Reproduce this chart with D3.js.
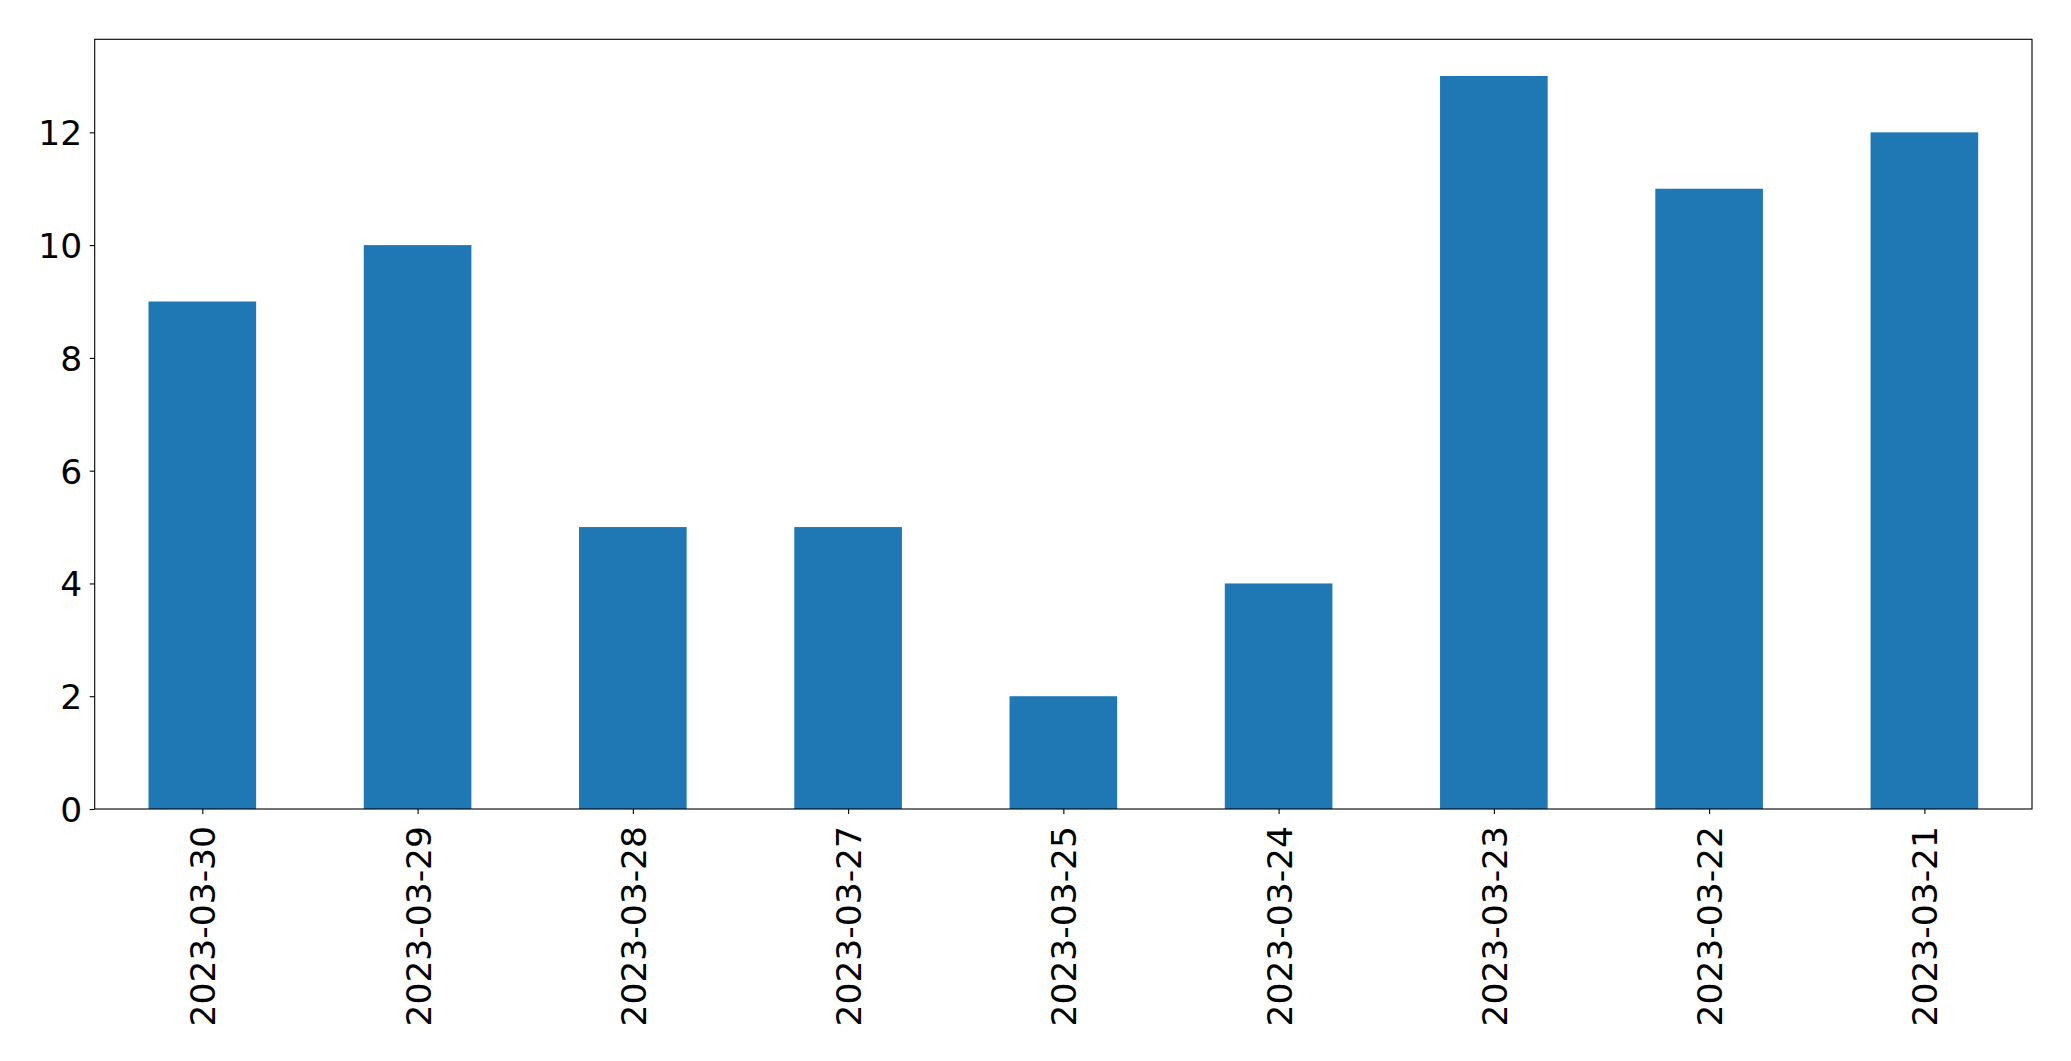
<!DOCTYPE html>
<html>
<head>
<meta charset="utf-8">
<script src="https://cdn.jsdelivr.net/npm/d3@7"></script>
<style>
  html, body { margin: 0; padding: 0; background: #fff; }
  svg { display: block; }
  text { font-family: "DejaVu Sans", sans-serif; fill: #000; }
</style>
</head>
<body>
<svg id="chart" width="2071" height="1061"></svg>
<script>
const categories = ["2023-03-30","2023-03-29","2023-03-28","2023-03-27","2023-03-25","2023-03-24","2023-03-23","2023-03-22","2023-03-21"];
const values = [9, 10, 5, 5, 2, 4, 13, 11, 12];
const yTicks = [0, 2, 4, 6, 8, 10, 12];

const W = 2071, H = 1061;
const margin = { left: 94.7, top: 39.3, right: 2071 - 2032, bottom: 1061 - 809 };
const pw = W - margin.left - margin.right;
const ph = H - margin.top - margin.bottom;
const fontSize = 34.5;
const color = "#1f77b4";

const svg = d3.select("#chart");
const g = svg.append("g").attr("transform", `translate(${margin.left},${margin.top})`);

const idx = d3.range(categories.length);
const x = d3.scaleLinear().domain([-0.5, categories.length - 0.5]).range([0, pw]);
const ymax = d3.max(values) * 1.05;
const y = d3.scaleLinear().domain([0, ymax]).range([ph, 0]);

// bars
g.selectAll("rect.bar").data(idx).join("rect")
  .attr("class", "bar")
  .attr("x", i => x(i - 0.25))
  .attr("width", i => x(i + 0.25) - x(i - 0.25))
  .attr("y", i => y(values[i]))
  .attr("height", i => y(0) - y(values[i]))
  .attr("fill", color);

// y axis
const yAxis = d3.axisLeft(y).tickValues(yTicks).tickSize(5).tickPadding(7.5).tickFormat(d3.format("d"));
const ya = g.append("g").call(yAxis);
ya.select(".domain").remove();
ya.selectAll(".tick line").attr("stroke", "#000").attr("stroke-width", 1.1);
ya.selectAll(".tick text").attr("font-size", fontSize).attr("font-family", "DejaVu Sans").attr("dy", "0.36em");

// x axis
const xAxis = d3.axisBottom(x).tickValues(idx).tickSize(5).tickFormat(i => categories[i]);
const xa = g.append("g").attr("transform", `translate(0,${ph})`).call(xAxis);
xa.select(".domain").remove();
xa.selectAll(".tick line").attr("stroke", "#000").attr("stroke-width", 1.1);
xa.selectAll(".tick text")
  .attr("font-size", fontSize)
  .attr("font-family", "DejaVu Sans")
  .attr("text-anchor", "end")
  .attr("transform", "translate(0,17) rotate(-90)")
  .attr("x", 0).attr("y", 0)
  .attr("dy", "0.36em");

// frame
g.append("rect")
  .attr("x", 0).attr("y", 0).attr("width", pw).attr("height", ph)
  .attr("fill", "none").attr("stroke", "#000").attr("stroke-width", 1.1);
</script>
</body>
</html>
